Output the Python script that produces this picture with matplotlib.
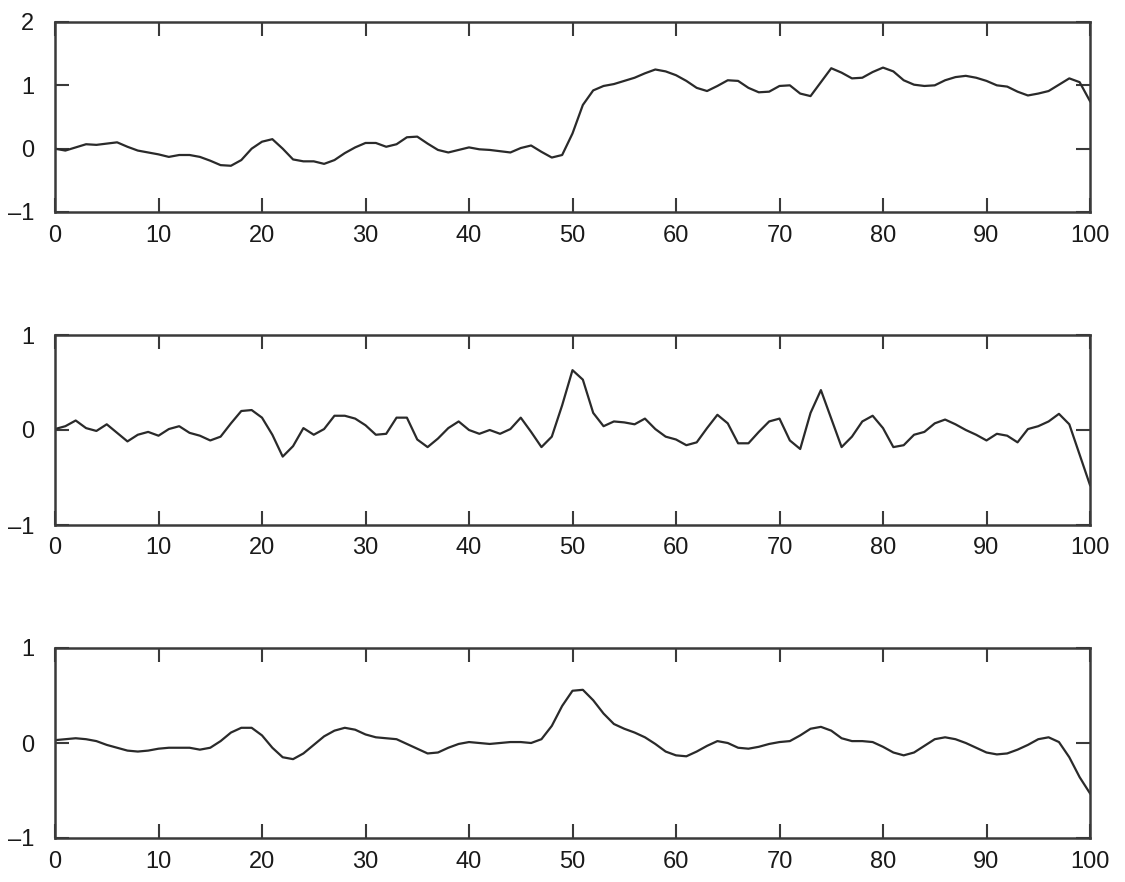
import numpy as np
import matplotlib
matplotlib.use("Agg")
import matplotlib.pyplot as plt

plt.rcParams['font.family'] = ['Liberation Sans', 'DejaVu Sans']

x = list(range(101))

signal = [0.0, -0.03, 0.02, 0.07, 0.06, 0.08, 0.10, 0.03, -0.03, -0.06,
          -0.09, -0.13, -0.10, -0.10, -0.13, -0.19, -0.26, -0.27, -0.18, 0.0,
          0.11, 0.15, 0.0, -0.17, -0.20, -0.20, -0.24, -0.18, -0.07, 0.02,
          0.09, 0.09, 0.03, 0.07, 0.18, 0.19, 0.08, -0.02, -0.06, -0.02,
          0.02, -0.01, -0.02, -0.04, -0.06, 0.01, 0.05, -0.05, -0.14, -0.10,
          0.24, 0.69, 0.92, 0.99, 1.02, 1.07, 1.12, 1.19, 1.25, 1.22,
          1.16, 1.07, 0.96, 0.91, 0.99, 1.08, 1.07, 0.96, 0.89, 0.90,
          0.99, 1.00, 0.87, 0.83, 1.05, 1.27, 1.20, 1.11, 1.12, 1.21,
          1.28, 1.22, 1.08, 1.01, 0.99, 1.00, 1.08, 1.13, 1.15, 1.12,
          1.07, 1.00, 0.98, 0.90, 0.84, 0.87, 0.91, 1.01, 1.11, 1.05,
          0.75]

detail = [0.01, 0.04, 0.10, 0.02, -0.01, 0.06, -0.03, -0.12, -0.05, -0.02,
          -0.06, 0.01, 0.04, -0.03, -0.06, -0.11, -0.07, 0.07, 0.20, 0.21,
          0.13, -0.05, -0.28, -0.17, 0.02, -0.05, 0.01, 0.15, 0.15, 0.12,
          0.05, -0.05, -0.04, 0.13, 0.13, -0.10, -0.18, -0.09, 0.02, 0.09,
          0.0, -0.04, 0.0, -0.04, 0.01, 0.13, -0.02, -0.18, -0.07, 0.26,
          0.63, 0.53, 0.18, 0.04, 0.09, 0.08, 0.06, 0.12, 0.01, -0.07,
          -0.10, -0.16, -0.13, 0.02, 0.16, 0.07, -0.14, -0.14, -0.02, 0.09,
          0.12, -0.11, -0.20, 0.18, 0.42, 0.12, -0.18, -0.07, 0.09, 0.15,
          0.02, -0.18, -0.16, -0.05, -0.02, 0.07, 0.11, 0.06, 0.0, -0.05,
          -0.11, -0.04, -0.06, -0.13, 0.01, 0.04, 0.09, 0.17, 0.06, -0.26,
          -0.58]

smooth = [0.03, 0.04, 0.05, 0.04, 0.02, -0.02, -0.05, -0.08, -0.09, -0.08,
          -0.06, -0.05, -0.05, -0.05, -0.07, -0.05, 0.02, 0.11, 0.16, 0.16,
          0.08, -0.05, -0.15, -0.17, -0.11, -0.02, 0.07, 0.13, 0.16, 0.14,
          0.09, 0.06, 0.05, 0.04, -0.01, -0.06, -0.11, -0.10, -0.05, -0.01,
          0.01, 0.0, -0.01, 0.0, 0.01, 0.01, 0.0, 0.04, 0.18, 0.39,
          0.55, 0.56, 0.45, 0.31, 0.20, 0.15, 0.11, 0.06, -0.01, -0.09,
          -0.13, -0.14, -0.09, -0.03, 0.02, 0.0, -0.05, -0.06, -0.04, -0.01,
          0.01, 0.02, 0.08, 0.15, 0.17, 0.13, 0.05, 0.02, 0.02, 0.01,
          -0.04, -0.10, -0.13, -0.10, -0.03, 0.04, 0.06, 0.04, 0.0, -0.05,
          -0.10, -0.12, -0.11, -0.07, -0.02, 0.04, 0.06, 0.01, -0.15, -0.36,
          -0.53]

xticks = [0, 10, 20, 30, 40, 50, 60, 70, 80, 90, 100]
series = [signal, detail, smooth]
ylims = [(-1, 2), (-1, 1), (-1, 1)]
yticks = [[-1, 0, 1, 2], [-1, 0, 1], [-1, 0, 1]]

fig = plt.figure(figsize=(11.25, 8.82), dpi=100)
left, width = 55 / 1125, (1090 - 55) / 1125
tops = [22, 335, 648]
h = 190
frame_col = '#3a3a3a'
for top, y, yl, yt in zip(tops, series, ylims, yticks):
    ax = fig.add_axes([left, 1 - (top + h) / 882, width, h / 882])
    ax.plot(x, y, color='#2a2a2a', lw=1.6)
    ax.set_xlim(0, 100)
    ax.set_ylim(*yl)
    ax.set_xticks(xticks)
    ax.set_yticks(yt)
    ax.set_yticklabels([str(v).replace('-', '\u2013') for v in yt])
    for s in ax.spines.values():
        s.set_color(frame_col)
        s.set_linewidth(1.8)
    ax.tick_params(direction='in', length=10, width=1.5, color=frame_col,
                   top=True, right=True, labelsize=17, labelcolor='#1a1a1a')
    ax.tick_params(axis='x', pad=9)
    ax.tick_params(axis='y', pad=15)

fig.savefig('out.png', dpi=100)
